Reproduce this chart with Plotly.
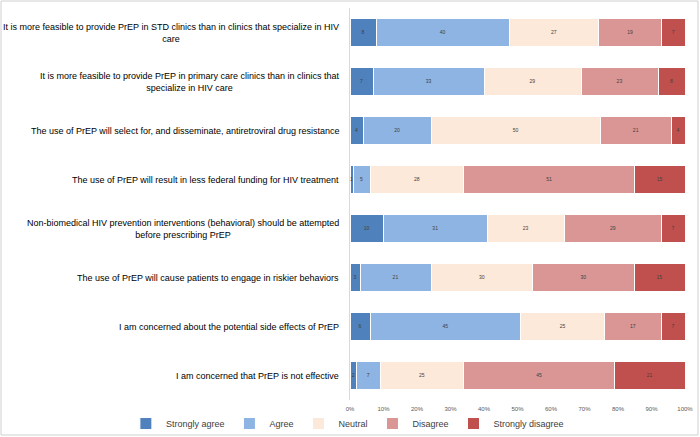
import plotly.graph_objects as go

statements = [
    "It is more feasible to provide PrEP in STD clinics than in clinics that specialize in HIV<br>care",
    "It is more feasible to provide PrEP in primary care clinics than in clinics that<br>specialize in HIV care",
    "The use of PrEP will select for, and disseminate, antiretroviral drug resistance",
    "The use of PrEP will result in less federal funding for HIV treatment",
    "Non-biomedical HIV prevention interventions (behavioral) should be attempted<br>before prescribing PrEP",
    "The use of PrEP will cause patients to engage in riskier behaviors",
    "I am concerned about the potential side effects of PrEP",
    "I am concerned that PrEP is not effective",
]
strongly_agree = [8, 7, 4, 1, 10, 3, 6, 2]
agree = [40, 33, 20, 5, 31, 21, 45, 7]
neutral = [27, 29, 50, 28, 23, 30, 25, 25]
disagree = [19, 23, 21, 51, 29, 30, 17, 45]
strongly_disagree = [7, 8, 4, 15, 7, 15, 7, 21]
series_names = ["Strongly agree", "Agree", "Neutral", "Disagree", "Strongly disagree"]
x_ticks = [0, 10, 20, 30, 40, 50, 60, 70, 80, 90, 100]
x_tick_labels = ["0%", "10%", "20%", "30%", "40%", "50%", "60%", "70%", "80%", "90%", "100%"]

colors = ["#4F81BD", "#8DB4E2", "#FDE9D9", "#D99694", "#C0504D"]
series = [strongly_agree, agree, neutral, disagree, strongly_disagree]

fig = go.Figure()
for name, vals, col in zip(series_names, series, colors):
    fig.add_trace(go.Bar(
        y=statements, x=vals, name=name, orientation="h",
        marker=dict(color=col, line=dict(color="white", width=1)),
        text=[str(v) for v in vals], textposition="inside",
        insidetextanchor="middle", textangle=0,
        textfont=dict(size=6, color="#404040", family="Liberation Sans"),
        hoverinfo="skip",
    ))

for s in statements:
    fig.add_annotation(
        x=-0.027, xref="paper", y=s, yref="y", text=s, showarrow=False,
        xanchor="right", align="center",
        font=dict(size=9, color="#000000", family="Liberation Sans"),
    )

fig.update_layout(
    barmode="stack", barnorm="percent", bargap=0.42,
    width=700, height=437,
    margin=dict(l=350, r=15, t=8, b=37, autoexpand=False),
    paper_bgcolor="white", plot_bgcolor="white",
    font=dict(family="Liberation Sans", color="#404040"),
    uniformtext=dict(minsize=4, mode="show"),
    legend=dict(
        orientation="h", xref="paper", yref="paper",
        x=-0.669, xanchor="left", y=-0.023, yanchor="top",
        font=dict(size=9, color="#404040"), traceorder="normal",
        itemwidth=30, tracegroupgap=0, bgcolor="rgba(0,0,0,0)",
    ),
    xaxis=dict(
        range=[0, 100], tickvals=x_ticks, ticktext=x_tick_labels,
        tickfont=dict(size=6, color="#595959"), showgrid=False,
        zeroline=False, showline=False, ticks="", ticklabelstandoff=4,
    ),
    yaxis=dict(
        autorange="reversed", showticklabels=False, showgrid=False,
        showline=True, linecolor="#d9d9d9", linewidth=1, ticks="",
    ),
    shapes=[dict(
        type="rect", xref="paper", yref="paper",
        x0=-349/335, x1=1 + 13/335, y0=-35/392, y1=1 + 7/392,
        line=dict(color="#d0d0d0", width=1), fillcolor="rgba(0,0,0,0)",
    )],
)

fig.write_html(
    "out.html",
    config={"displayModeBar": False},
    post_script="document.body.style.margin='0';document.body.style.overflow='hidden';",
)
